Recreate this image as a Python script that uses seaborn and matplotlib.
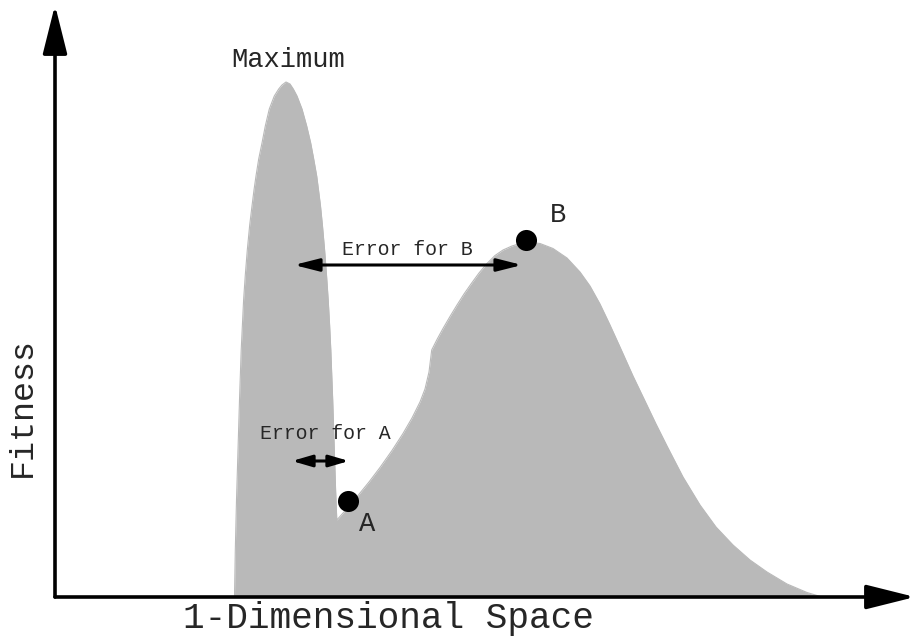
import matplotlib
matplotlib.use("Agg")
import matplotlib.pyplot as plt
from matplotlib.patches import FancyArrowPatch, ArrowStyle
import seaborn as sns
import pandas as pd

# Fitness landscape outline: position along the 1-D space and fitness height
space_x = [234.5, 235.3, 236.5, 238, 239.5, 241.2, 243.6, 245.3, 247.3, 249.7, 252, 254, 256,
           258.7, 262, 265.3, 269.3, 274.3, 278.7, 282, 286,
           290, 293.3, 297, 302, 306.7, 310.7, 313.7, 316.7, 318.5, 320.5, 322.4, 324.6, 326.5,
           328.2, 329.6, 330.8, 332.7, 334.3, 335.6, 336.8,
           348, 358, 369, 380, 392, 403, 412, 420, 425, 429, 431.7,
           437, 443, 450, 457, 464, 471, 479, 487, 495, 503, 512, 520, 530, 540,
           553, 567, 580, 590, 600, 610, 620, 633, 645, 656, 667, 683, 700, 716, 733,
           750, 767, 787, 807, 822]
fitness_y = [0, 47, 97, 147, 197, 247, 297, 322, 347, 372, 391, 407, 421,
             438, 454, 471, 488, 501, 508, 512, 515,
             513, 508, 501, 488, 471, 454, 438, 421, 407, 391, 372, 347, 322,
             297, 272, 247, 197, 147, 107, 77,
             89.5, 101.5, 115, 129.5, 146.5, 163.5, 179, 195, 208, 225, 247,
             257.5, 268.5, 280.5, 292, 303, 313, 324, 333.5, 341.5, 347, 351, 353.5, 354.7, 353.5,
             348.5, 339, 325, 311, 293, 272, 250, 221, 196, 173, 151, 120, 92, 70, 52,
             37, 25, 13, 4.5, 0]

# Two sample individuals sitting on the landscape
point_names = ["A", "B"]
point_x = [348, 526]
point_y = [96, 357]

land = pd.DataFrame({"space": space_x, "fitness": fitness_y})
pts = pd.DataFrame({"space": point_x, "fitness": point_y, "name": point_names})

sns.set_theme(style="white")
plt.rcParams["font.family"] = ["Liberation Mono", "DejaVu Sans Mono"]

fig = plt.figure(figsize=(9.17, 6.43), dpi=100)
ax = fig.add_axes([0, 0, 1, 1])
ax.set_xlim(0, 917)
ax.set_ylim(-46, 597)
ax.set_axis_off()

gray = "#b9b9b9"
ax.fill_between(land["space"], land["fitness"], 0, color=gray, lw=0, zorder=1)
sns.lineplot(data=land, x="space", y="fitness", color=gray, lw=0.8, ax=ax, zorder=1)

sns.scatterplot(data=pts, x="space", y="fitness", s=230, color="black",
                edgecolor="black", linewidth=0, ax=ax, zorder=4, legend=False)


def arrow(p0, p1, style, hl, hw, lw):
    ax.add_patch(FancyArrowPatch(p0, p1, arrowstyle=ArrowStyle(style, head_length=hl, head_width=hw),
                                 mutation_scale=1, shrinkA=0, shrinkB=0, lw=lw,
                                 color="black", zorder=5))


# Coordinate axes with arrow heads
arrow((55, 0), (55, 592), "-|>", 30, 7.5, 2.6)
arrow((55, 0), (915, 0), "-|>", 30, 7.5, 2.6)

# Error spans
arrow((294, 332), (522, 332), "<|-|>", 15, 3.8, 2.2)
arrow((292, 136), (349, 136), "<|-|>", 12, 3.5, 2.2)

ax.text(288, 530, "Maximum", ha="center", va="baseline", fontsize=19.5)
ax.text(407, 342, "Error for B", ha="center", va="baseline", fontsize=14.3)
ax.text(325, 158, "Error for A", ha="center", va="baseline", fontsize=14.3)
ax.text(558, 375, "B", ha="center", va="baseline", fontsize=19.5)
ax.text(367.5, 66, "A", ha="center", va="baseline", fontsize=19.5)
ax.text(388, -31, "1-Dimensional Space", ha="center", va="baseline", fontsize=26)
ax.text(22.5, 190, "Fitness", ha="center", va="center", rotation=90, fontsize=24)

fig.savefig("out.png", dpi=100)
